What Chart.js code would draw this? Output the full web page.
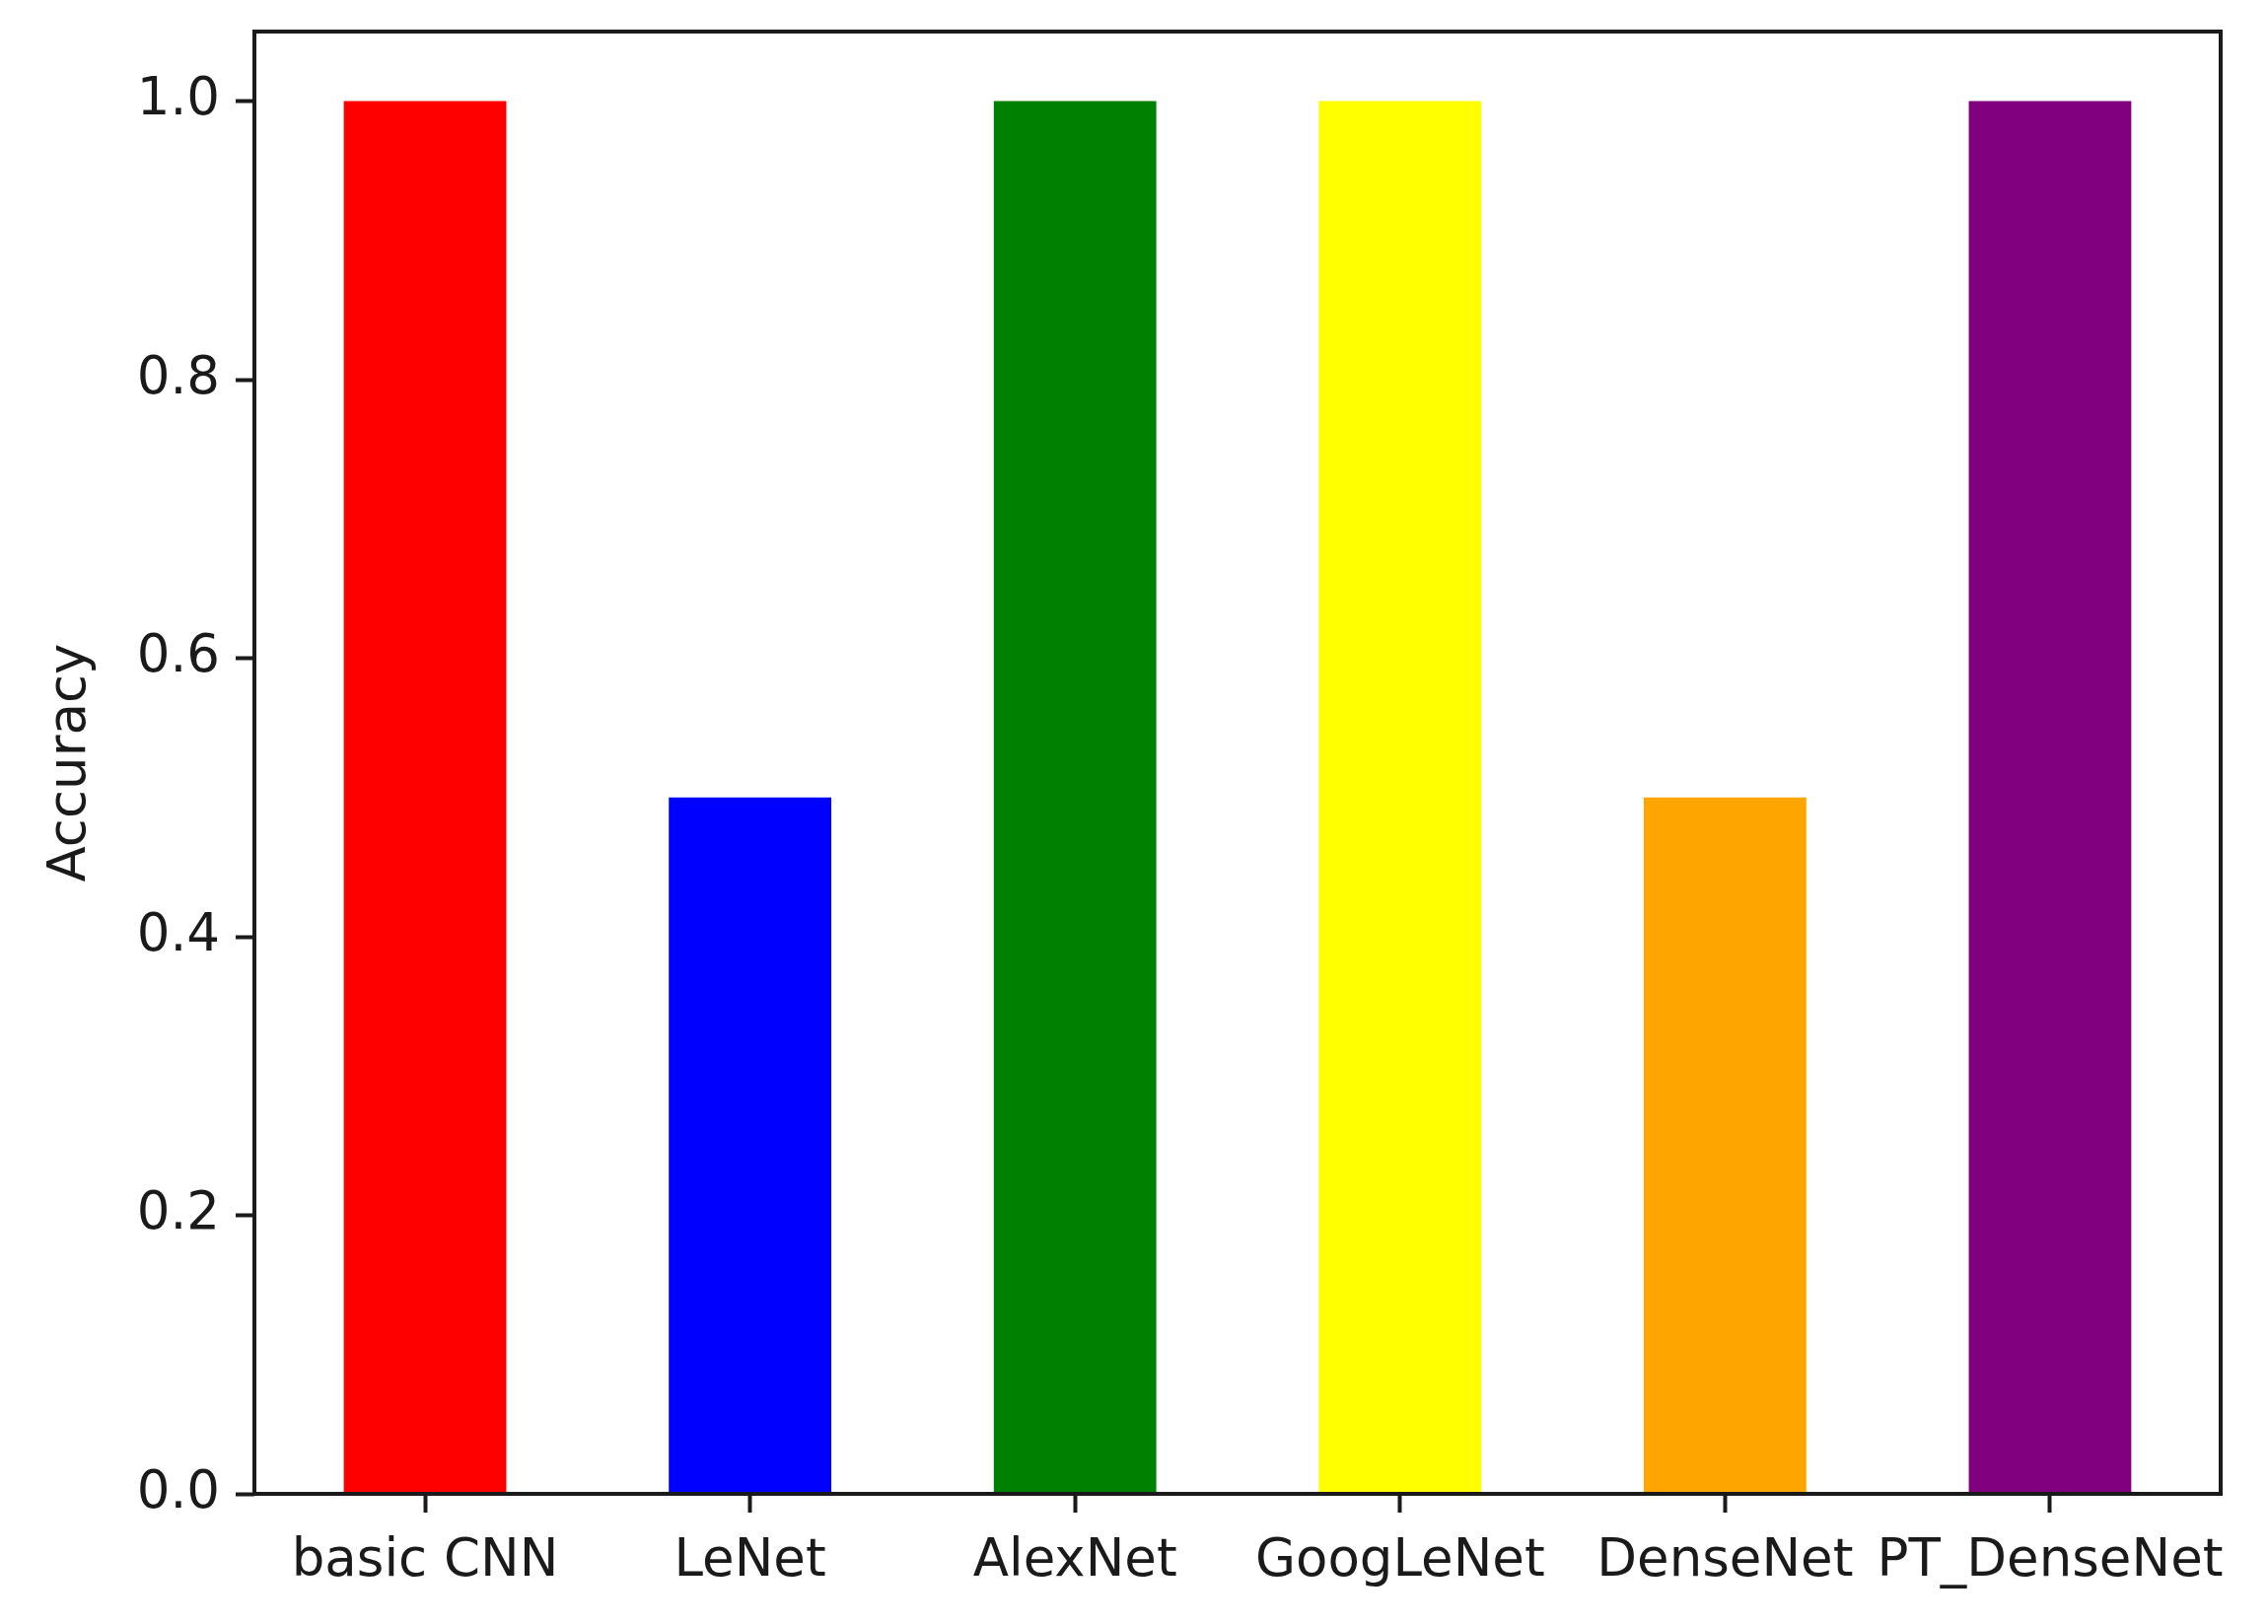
<!DOCTYPE html>
<html>
<head>
   <title>Model Accuracy</title>
   <script src="https://cdn.jsdelivr.net/npm/chart.js"></script>
   <style>
       body { margin: 0; background: #fff; }
   </style>
</head>
<body>
   <canvas id="accChart" width="2300" height="1647"></canvas>

   <script>
       // data
       const models = ["basic CNN", "LeNet", "AlexNet", "GoogLeNet", "DenseNet", "PT_DenseNet"];
       const accuracy = [1.0, 0.5, 1.0, 1.0, 0.5, 1.0];
       const barColors = ["#ff0000", "#0000ff", "#008000", "#ffff00", "#ffa500", "#800080"];
       const yTicks = [0.0, 0.2, 0.4, 0.6, 0.8, 1.0];

       const fontFamily = "'DejaVu Sans', sans-serif";
       const textColor = "#1a1a1a";

       // box around the plot area, like matplotlib's spines
       const frame = {
           id: "frame",
           afterDatasetsDraw(chart) {
               const a = chart.chartArea;
               const c = chart.ctx;
               c.save();
               c.strokeStyle = "#1a1a1a";
               c.lineWidth = 4;
               c.strokeRect(a.left, a.top, a.right - a.left, a.bottom - a.top);
               c.restore();
           }
       };

       const ctx = document.getElementById("accChart").getContext("2d");
       const chart = new Chart(ctx, {
           type: "bar",
           data: {
               datasets: [{
                   label: "Accuracy",
                   data: models.map((m, i) => ({ x: i, y: accuracy[i] })),
                   backgroundColor: barColors,
                   borderWidth: 0,
                   barPercentage: 0.5,
                   categoryPercentage: 1.0
               }]
           },
           options: {
               responsive: false,
               animation: false,
               layout: { padding: { top: 32, right: 48, left: 0, bottom: 0 } },
               plugins: {
                   legend: { display: false },
                   tooltip: { enabled: false }
               },
               scales: {
                   x: {
                       type: "linear",
                       min: -0.525,
                       max: 5.525,
                       offset: false,
                       afterBuildTicks(scale) {
                           scale.ticks = models.map((m, i) => ({ value: i }));
                       },
                       afterFit(scale) {
                           scale.height = 132;
                           scale.paddingLeft = 0;
                           scale.paddingRight = 0;
                       },
                       grid: {
                           offset: false,
                           drawOnChartArea: false,
                           tickLength: 19,
                           tickWidth: 4,
                           tickColor: "#1a1a1a"
                       },
                       border: { display: false },
                       ticks: {
                           autoSkip: false,
                           maxRotation: 0,
                           padding: 18,
                           color: textColor,
                           font: { family: fontFamily, size: 53 },
                           callback: (v) => models[v]
                       }
                   },
                   y: {
                       min: 0,
                       max: 1.05,
                       afterBuildTicks(scale) {
                           scale.ticks = yTicks.map(v => ({ value: v }));
                       },
                       afterFit(scale) {
                           scale.width = 258;
                           scale.paddingTop = 0;
                           scale.paddingBottom = 0;
                       },
                       grid: {
                           drawOnChartArea: false,
                           tickLength: 19,
                           tickWidth: 4,
                           tickColor: "#1a1a1a"
                       },
                       border: { display: false },
                       ticks: {
                           padding: 16,
                           color: textColor,
                           font: { family: fontFamily, size: 53 },
                           callback: (v) => v.toFixed(1)
                       },
                       title: {
                           display: true,
                           text: "Accuracy",
                           color: textColor,
                           font: { family: fontFamily, size: 53 },
                           padding: { top: 40, bottom: 0 }
                       }
                   }
               }
           },
           plugins: [frame]
       });
   </script>
</body>
</html>
